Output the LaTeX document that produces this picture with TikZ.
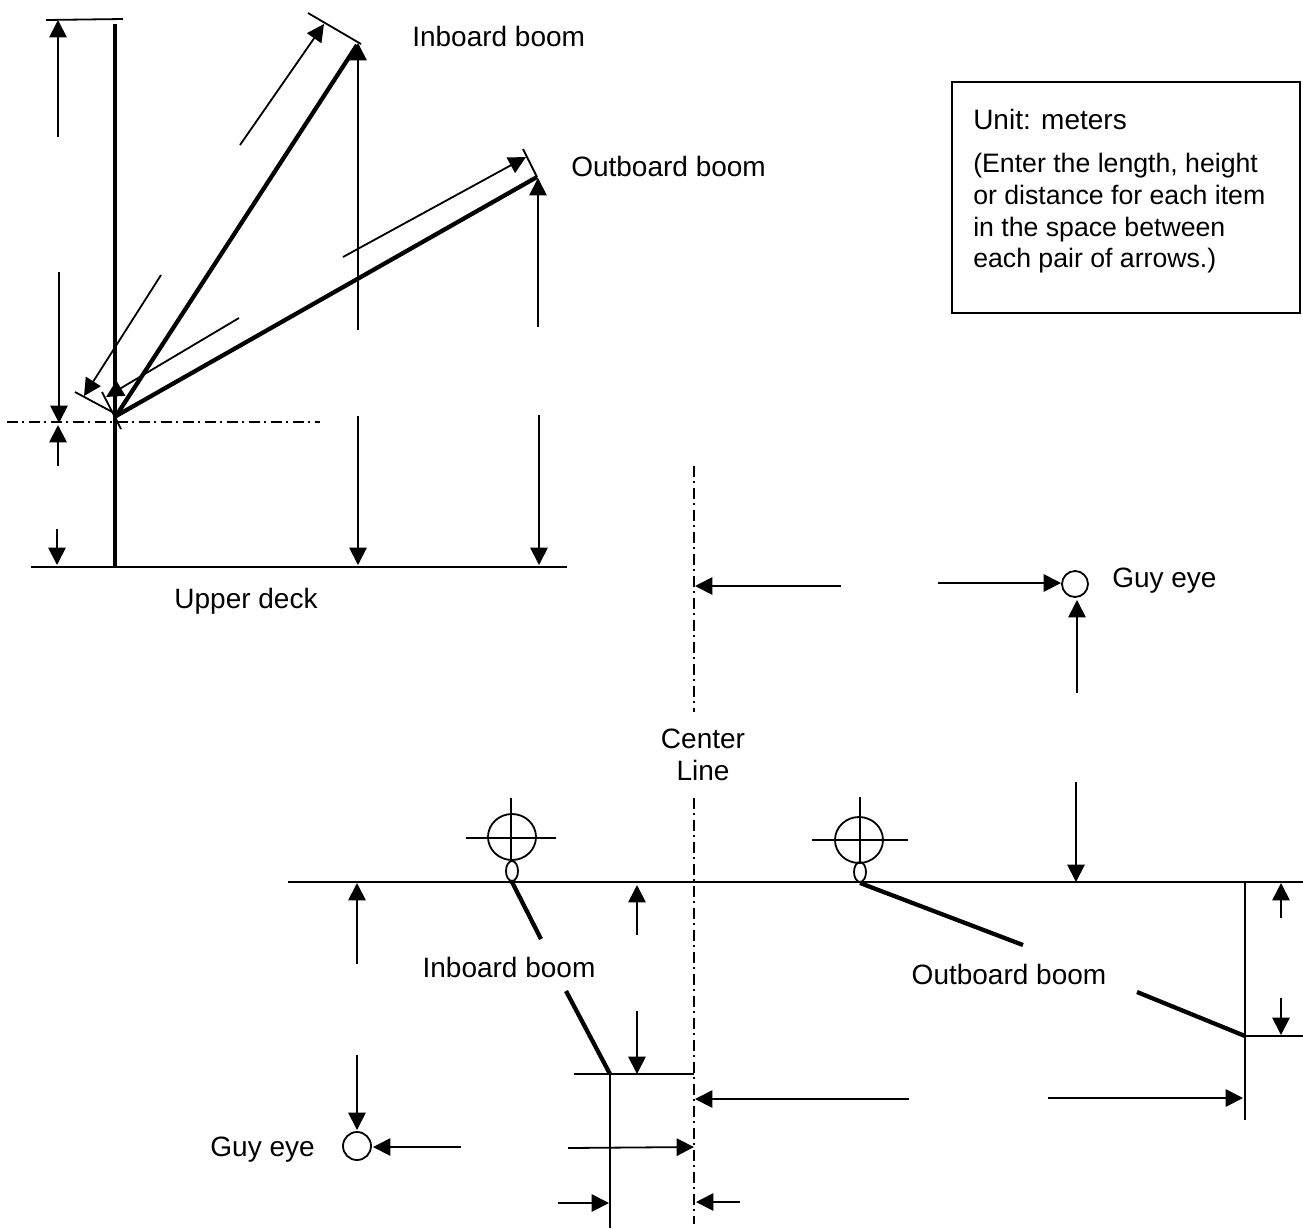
\documentclass[tikz,border=0pt]{standalone}
\usepackage{fontspec}
\setmainfont{Liberation Sans}
\usetikzlibrary{arrows.meta}
\tikzset{
  thinline/.style={line width=1.35pt,black},
  dimarrow/.style={line width=1.35pt,black,-{Triangle[length=13pt,width=13pt]}},
  boom/.style={line width=3.2pt,black},
  chain/.style={line width=1.2pt,black,dash pattern=on 8pt off 3.5pt on 1.5pt off 3.5pt},
  label/.style={inner sep=0pt,font=\fontsize{21pt}{24pt}\selectfont},
  note/.style={inner sep=0pt,anchor=base west,font=\fontsize{20pt}{23pt}\selectfont},
}
\begin{document}
\begin{tikzpicture}[x=0.75pt,y=-0.75pt]
\useasboundingbox (0,0) rectangle (1303,1229);
% upper view
\draw[boom] (115,24) -- (115,567);
\draw[thinline] (46,20) -- (123,19);
\draw[thinline] (31,567) -- (567,567);
\draw[chain] (7,422) -- (320,422);
\draw[boom] (116,416) -- (357,45);
\draw[boom] (116,416) -- (537,177);
\draw[thinline] (308,13) -- (361,44);
\draw[thinline] (75,392) -- (116,414);
\draw[thinline] (523,149) -- (537,177);
\draw[thinline] (102,392) -- (121,429);
\draw[dimarrow] (58,137) -- (58,20);
\draw[dimarrow] (59,272) -- (59,423);
\draw[dimarrow] (58,466) -- (58,425);
\draw[dimarrow] (57,529) -- (57,565);
\draw[dimarrow] (240,145) -- (324,24);
\draw[dimarrow] (161,275) -- (84,396);
\draw[dimarrow] (343,257) -- (526,157);
\draw[dimarrow] (239,318) -- (106,397);
\draw[dimarrow] (358,330) -- (358,43);
\draw[dimarrow] (358,416) -- (358,565);
\draw[dimarrow] (538,327) -- (538,178);
\draw[dimarrow] (539,415) -- (539,565);
\node[label,anchor=west] (inb1) at (412,36) {Inboard boom};
\node[label,anchor=west] (outb1) at (571,166) {Outboard boom};
\node[label] (deck) at (246,601) {Upper deck};
% note box
\draw[thinline] (952,82) rectangle (1300,313);
\node[label,anchor=base west] (unit) at (973,129) {Unit: meters};
\node[note] (n1) at (973,172) {(Enter the length, height};
\node[note] (n2) at (973,204) {or distance for each item};
\node[note] (n3) at (973,236) {in the space between};
\node[note] (n4) at (973,267) {each pair of arrows.)};
% lower view
\draw[chain] (694,466) -- (694,712);
\draw[chain] (694,798) -- (694,1224);
\draw[line width=1.5pt] (288,882) -- (1303,882);
\draw[thinline] (1075,584) circle [radius=13];
\node[label,anchor=west] (eye1) at (1112,581) {Guy eye};
\draw[dimarrow] (841,586) -- (695,586);
\draw[dimarrow] (938,583) -- (1061,583);
\draw[dimarrow] (1077,693) -- (1077,600);
\draw[dimarrow] (1076,782) -- (1076,882);
\node[label,align=center] (cl) at (703,755) {Center\\Line};
% inboard post
\draw[thinline] (512,837) ellipse [x radius=24,y radius=23];
\draw[thinline] (466,838) -- (556,838);
\draw[thinline] (511,798) -- (511,862);
\draw[thinline] (512,871) ellipse [x radius=6,y radius=10];
\draw[boom] (512,882) -- (541,939);
\draw[boom] (566,991) -- (610,1074);
\node[label] (inb2) at (509,967) {Inboard boom};
\draw[dimarrow] (357,964) -- (357,883);
\draw[dimarrow] (357,1055) -- (357,1130);
\draw[thinline] (357,1146) circle [radius=14];
\node[label,anchor=east] (eye2) at (315,1150) {Guy eye};
\draw[dimarrow] (461,1147) -- (373,1147);
\draw[dimarrow] (637,935) -- (637,885);
\draw[dimarrow] (637,1011) -- (637,1074);
\draw[thinline] (574,1074) -- (694,1074);
\draw[thinline] (610,1074) -- (610,1228);
\draw[dimarrow] (568,1148) -- (694,1147);
\draw[dimarrow] (558,1203) -- (609,1203);
\draw[dimarrow] (740,1202) -- (696,1202);
% outboard post
\draw[thinline] (859,840) ellipse [x radius=24,y radius=23];
\draw[thinline] (812,840) -- (908,840);
\draw[thinline] (860,797) -- (860,862);
\draw[thinline] (860,872) ellipse [x radius=6,y radius=10];
\draw[boom] (860,883) -- (1023,945);
\draw[boom] (1137,992) -- (1245,1036);
\node[label] (outb2) at (1009,974) {Outboard boom};
\draw[dimarrow] (909,1099) -- (695,1099);
\draw[dimarrow] (1048,1098) -- (1243,1098);
\draw[thinline] (1245,882) -- (1245,1120);
\draw[thinline] (1245,1036) -- (1303,1036);
\draw[dimarrow] (1281,918) -- (1281,883);
\draw[dimarrow] (1281,998) -- (1281,1035);
\end{tikzpicture}
\end{document}
